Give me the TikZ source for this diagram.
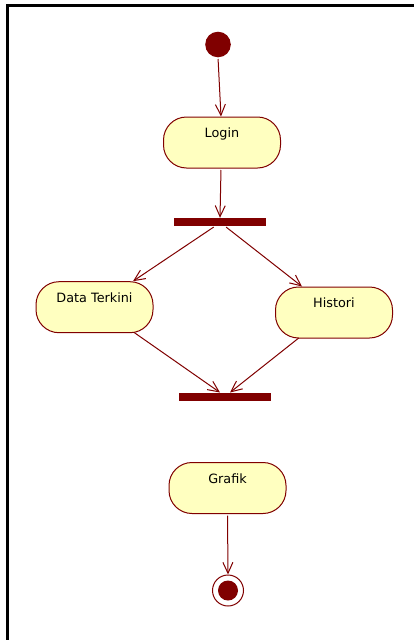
\documentclass[tikz,border=0pt]{standalone}
\usepackage{fontspec}
\setmainfont{DejaVu Sans}
\usetikzlibrary{arrows.meta}
\definecolor{umlred}{RGB}{128,0,0}
\definecolor{actfill}{RGB}{255,255,192}
\tikzset{
  actbox/.style={draw=umlred, fill=actfill, line width=1pt, rounded corners=23pt,
    minimum width=117pt, minimum height=51pt, inner sep=0pt,
    text height=9.5pt, text depth=19.5pt, text=black,
    font=\fontsize{12.8}{14}\selectfont},
  barnode/.style={fill=umlred, minimum width=92pt, minimum height=8pt, inner sep=0pt},
  startnode/.style={circle, fill=umlred, minimum size=25.6pt, inner sep=0pt},
  endnode/.style={circle, draw=umlred, fill=white, line width=1pt, minimum size=31pt, inner sep=0pt},
  flow/.style={draw=umlred, line width=1pt, shorten <=1.5pt,
    -{Straight Barb[length=11pt,width=10pt,line width=1pt]}},
  frameline/.style={line width=2.6pt, black}
}
\begin{document}
\begin{tikzpicture}[x=1pt,y=-1pt]
\useasboundingbox (0,0) rectangle (414,640);
\fill[white] (0,0) rectangle (414,640);
% frame (top and left edges only)
\draw[frameline] (7.3,640) -- (7.3,5.3) -- (414,5.3);

\node[startnode] (init) at (218,44.5) {};
\node[actbox] (login) at (222,142.5) {Login};
\node[barnode] (fork) at (219.5,222) {};
\node[actbox] (dt) at (94.5,307.2) {Data Terkini};
\node[actbox] (hist) at (334,312.5) {Histori};
\node[barnode] (join) at (225,396.7) {};
\node[actbox] (grafik) at (227.5,488) {Grafik};
\node[endnode] (final) at (228,590.5) {};
\fill[umlred] (final.center) circle (10pt);

\draw[flow] (init.south) -- ([xshift=-1pt]login.north);
\draw[flow] ([xshift=-1pt]login.south) -- ([xshift=0.5pt]fork.north);
\draw[flow] ([xshift=-4.5pt]fork.south) -- ([xshift=38.5pt]dt.north);
\draw[flow] ([xshift=5.5pt]fork.south) -- ([xshift=-32pt]hist.north);
\draw[flow] ([xshift=38.5pt,yshift=1.5pt]dt.south) -- ([xshift=-5pt]join.north);
\draw[flow] ([xshift=-34pt,yshift=1.5pt]hist.south) -- ([xshift=5pt]join.north);
\draw[flow] (grafik.south) -- (final.north);
\end{tikzpicture}
\end{document}
